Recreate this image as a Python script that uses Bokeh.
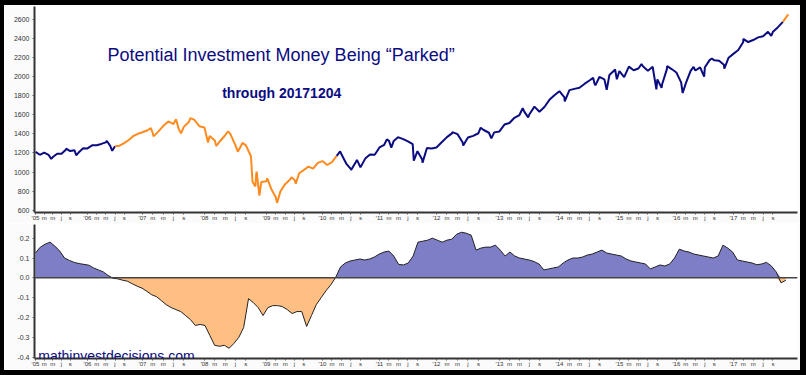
import numpy as np
from bokeh.plotting import figure
from bokeh.layouts import column, row
from bokeh.models import Range1d, FixedTicker, Label, Span, NumeralTickFormatter, Div
from bokeh.embed import file_html
from bokeh.resources import INLINE

# ---------------- data ----------------
start_year = 2005
n_months = 156  # Jan 2005 .. Dec 2017

# index level at the start of each calendar month
price = [
    1212, 1181, 1204, 1181, 1157, 1192, 1191, 1234, 1220, 1229, 1207, 1249,
    1248, 1280, 1281, 1295, 1311, 1270, 1270, 1277, 1304, 1336, 1378, 1401,
    1418, 1438, 1407, 1421, 1482, 1531, 1503, 1455, 1474, 1527, 1549, 1481,
    1468, 1379, 1331, 1323, 1386, 1400, 1280, 1267, 1283, 1166, 969, 896,
    903, 826, 735, 798, 873, 919, 919, 987, 1021, 1057, 1036, 1096,
    1115, 1074, 1104, 1169, 1187, 1089, 1031, 1102, 1049, 1141, 1183, 1181,
    1258, 1286, 1327, 1326, 1364, 1345, 1321, 1292, 1219, 1131, 1253, 1247,
    1258, 1312, 1366, 1408, 1398, 1310, 1362, 1379, 1407, 1441, 1412, 1416,
    1426, 1498, 1515, 1569, 1598, 1631, 1606, 1686, 1633, 1682, 1757, 1806,
    1848, 1783, 1859, 1872, 1884, 1924, 1960, 1931, 1997, 1972, 2018, 2068,
    2059, 1995, 2105, 2068, 2086, 2107, 2063, 2104, 1972, 1920, 2079, 2080,
    2044, 1940, 1932, 2060, 2065, 2097, 2099, 2174, 2171, 2168, 2126, 2199,
    2239, 2279, 2364, 2363, 2384, 2412, 2423, 2470, 2472, 2519, 2575, 2648,
]

# extra intra-month highs / lows visible in the line
extreme_dates = [
    "2005-04-20", "2005-08-03", "2005-10-13", "2006-05-08", "2006-06-13",
    "2007-02-20", "2007-03-05", "2007-07-16", "2007-08-15", "2007-10-09",
    "2008-01-22", "2008-03-10", "2008-05-19", "2008-07-15", "2008-08-11",
    "2008-10-10", "2008-10-27", "2008-11-04", "2008-11-20", "2009-01-06",
    "2009-03-09", "2009-06-12", "2009-07-10", "2010-04-23", "2010-07-02",
    "2010-08-09", "2011-02-18", "2011-03-16", "2011-04-29", "2011-08-08",
    "2011-10-03", "2012-04-02", "2012-06-04", "2012-09-14", "2012-11-15",
    "2013-05-21", "2013-06-24", "2014-02-03", "2014-07-24", "2014-08-07",
    "2014-10-15", "2014-12-05", "2014-12-16", "2015-05-21", "2015-08-25",
    "2015-09-28", "2015-11-03", "2016-02-11", "2016-04-20", "2016-06-27",
    "2016-08-15", "2016-11-04", "2017-03-01", "2017-08-21", "2017-12-04",
]
extreme_values = [
    1138, 1245, 1176, 1326, 1223,
    1460, 1374, 1553, 1406, 1565,
    1310, 1273, 1426, 1214, 1305,
    899, 848, 1005, 752, 935,
    677, 946, 879, 1217, 1022,
    1127, 1343, 1256, 1364, 1119,
    1099, 1419, 1278, 1465, 1353,
    1669, 1573, 1741, 1988, 1909,
    1862, 2075, 1973, 2131, 1867,
    1882, 2110, 1829, 2102, 2000,
    2190, 2085, 2396, 2428, 2640,
]

# lower-panel indicator, read at evenly spaced points along the axis
indicator = [
    0.126, 0.155, 0.17, 0.18, 0.16, 0.135, 0.10, 0.088, 0.078, 0.072, 0.068, 0.064,
    0.05, 0.04, 0.03, 0.012, -0.002, -0.005, -0.012, -0.017, -0.03, -0.042, -0.052, -0.068,
    -0.085, -0.095, -0.115, -0.135, -0.15, -0.16, -0.17, -0.19, -0.21, -0.24, -0.235, -0.24,
    -0.29, -0.34, -0.345, -0.34, -0.355, -0.33, -0.30, -0.25, -0.105, -0.125, -0.15, -0.19,
    -0.15, -0.14, -0.14, -0.145, -0.16, -0.18, -0.17, -0.17, -0.245, -0.19, -0.135, -0.10,
    -0.065, -0.035, 0.002, 0.055, 0.075, 0.085, 0.09, 0.095, 0.09, 0.095, 0.105, 0.12,
    0.13, 0.135, 0.11, 0.068, 0.065, 0.075, 0.11, 0.18, 0.185, 0.19, 0.20, 0.19,
    0.18, 0.19, 0.195, 0.22, 0.23, 0.225, 0.215, 0.14, 0.15, 0.155, 0.155, 0.165,
    0.14, 0.11, 0.13, 0.11, 0.10, 0.095, 0.09, 0.082, 0.07, 0.04, 0.045, 0.05,
    0.055, 0.075, 0.09, 0.10, 0.10, 0.105, 0.115, 0.12, 0.13, 0.14, 0.125, 0.12,
    0.115, 0.11, 0.095, 0.085, 0.08, 0.075, 0.07, 0.045, 0.055, 0.065, 0.06, 0.07,
    0.10, 0.145, 0.135, 0.13, 0.12, 0.115, 0.11, 0.105, 0.10, 0.11, 0.165, 0.15,
    0.13, 0.09, 0.085, 0.08, 0.075, 0.066, 0.07, 0.078, 0.06, 0.03, -0.025, -0.012,
]

# the chart's time axis is not quite linear in calendar time:
# where each January (and the last date) sits on the axis, in axis units
axis_calendar_months = [0, 12, 24, 36, 48, 60, 72, 84, 96, 108, 120, 132, 144, 155.1]
axis_positions = [0, 10.74, 22.10, 34.90, 47.71, 59.27, 71.05, 82.82, 95.83,
                  108.22, 120.61, 132.38, 144.15, 155.51]

tick_month_offsets = [0, 2, 4, 6, 8]
tick_month_letters = [None, "m", "m", "j", "s"]  # None -> year label
top_y_ticks = [600, 800, 1000, 1200, 1400, 1600, 1800, 2000, 2200, 2400, 2600]
bottom_y_ticks = [-0.4, -0.3, -0.2, -0.1, 0.0, 0.1, 0.2]

title_text = "Potential Investment Money Being \u201cParked\u201d"
subtitle_text = "through 20171204"
site_text = "mathinvestdecisions.com"
badge_text = "MBT"

# ---------------- styles ----------------
NAVY = "#0b0b82"
ORANGE = "#ff8a1e"
BLUE_FILL = "#7e7ec6"
ORANGE_FILL = "#ffbe82"
FONT = "Liberation Sans"
PANEL_BG = "#fbfbfb"


def cal_month(d):
    y, m, dd = (int(s) for s in d.split("-"))
    return (y - start_year) * 12 + (m - 1) + (dd - 1) / 30.5


def to_axis(cm):
    return np.interp(cm, axis_calendar_months, axis_positions)


ix = np.arange(n_months, dtype=float)
ind = np.array(indicator)

cal = np.concatenate([np.arange(n_months, dtype=float),
                      [cal_month(d) for d in extreme_dates]])
py = np.concatenate([np.array(price, float), np.array(extreme_values, float)])
order = np.argsort(cal, kind="stable")
px = to_axis(cal[order])
py = py[order]
psign = np.interp(px, ix, ind) < 0

# x ticks / labels (calendar months mapped onto the axis)
ticks, overrides = [], {}
for yi in range(start_year, start_year + 13):
    for off, let in zip(tick_month_offsets, tick_month_letters):
        t = round(float(to_axis((yi - start_year) * 12 + off)), 4)
        ticks.append(t)
        overrides[t] = ("'" + str(yi)[2:]) if let is None else let

x_range = Range1d(-0.21, 157.4)


def style_x(ax):
    ax.ticker = FixedTicker(ticks=ticks)
    ax.major_label_overrides = overrides
    ax.major_label_text_font = FONT
    ax.major_label_text_font_size = "6px"
    ax.major_label_text_color = "#333333"
    ax.major_label_standoff = 0
    ax.major_tick_out = 2
    ax.major_tick_in = 0
    ax.minor_tick_out = 0
    ax.minor_tick_in = 0
    ax.axis_line_width = 2
    ax.axis_line_color = "#333333"
    ax.major_tick_line_color = "#555555"


def style_y(ax, tks):
    ax.ticker = FixedTicker(ticks=tks)
    ax.major_label_text_font = FONT
    ax.major_label_text_font_size = "7px"
    ax.major_label_text_color = "#333333"
    ax.major_label_standoff = 3
    ax.major_tick_out = 2
    ax.major_tick_in = 0
    ax.minor_tick_out = 0
    ax.minor_tick_in = 0
    ax.axis_line_width = 2
    ax.axis_line_color = "#333333"
    ax.major_tick_line_color = "#555555"


# ---------------- top panel ----------------
p1 = figure(width=796, height=218, x_range=x_range, y_range=Range1d(576, 2735.7),
            output_backend="svg", toolbar_location=None,
            min_border_left=30, min_border_right=3, min_border_top=1, min_border_bottom=10,
            background_fill_color="white", border_fill_color=PANEL_BG)
p1.outline_line_color = None
p1.xgrid.visible = False
p1.ygrid.visible = False
style_x(p1.xaxis[0])
style_y(p1.yaxis[0], top_y_ticks)

# split the price line by the sign of the indicator
seg_xs, seg_ys, seg_cs = [], [], []
cur = [0]
for i in range(1, len(px)):
    cur.append(i)
    if psign[i] != psign[i - 1]:
        seg_xs.append(px[cur].tolist())
        seg_ys.append(py[cur].tolist())
        seg_cs.append(ORANGE if psign[cur[0]] else NAVY)
        cur = [i]
seg_xs.append(px[cur].tolist())
seg_ys.append(py[cur].tolist())
seg_cs.append(ORANGE if psign[cur[0]] else NAVY)
p1.multi_line(xs=seg_xs, ys=seg_ys, line_color=seg_cs, line_width=2)

p1.add_layout(Label(x=14.87, y=2225, text=title_text, text_font=FONT,
                    text_font_size="18px", text_color=NAVY, text_baseline="alphabetic"))
p1.add_layout(Label(x=38.56, y=1825, text=subtitle_text, text_font=FONT,
                    text_font_size="14px", text_font_style="bold", text_color=NAVY,
                    text_baseline="alphabetic"))

# ---------------- bottom panel ----------------
p2 = figure(width=796, height=147, x_range=x_range, y_range=Range1d(-0.4066, 0.269),
            output_backend="svg", toolbar_location=None,
            min_border_left=30, min_border_right=3, min_border_top=1, min_border_bottom=12,
            background_fill_color="white", border_fill_color=PANEL_BG)
p2.outline_line_color = None
p2.xgrid.visible = False
p2.ygrid.visible = False
style_x(p2.xaxis[0])
style_y(p2.yaxis[0], bottom_y_ticks)
p2.yaxis[0].formatter = NumeralTickFormatter(format="0.0")

p2.varea(x=ix, y1=0, y2=np.maximum(ind, 0), fill_color=BLUE_FILL)
p2.varea(x=ix, y1=0, y2=np.minimum(ind, 0), fill_color=ORANGE_FILL)
p2.add_layout(Span(location=0, dimension="width", line_color="#444444", line_width=1.5))
p2.line(ix, ind, line_color="#222222", line_width=1)

p2.add_layout(Label(x=0.56, y=-0.392, text=site_text, text_font=FONT,
                    text_font_size="14px", text_color=NAVY, text_baseline="alphabetic"))
p2.add_layout(Label(x=-4.4, y=-0.432, text=badge_text, text_font=FONT,
                    text_font_size="5px", text_font_style="bold", text_color="white",
                    background_fill_color="black", text_baseline="middle",
                    padding=1))

# ---------------- black frame around everything ----------------
black = {"background-color": "black"}
top_bar = Div(text="", width=806, height=5, margin=0, styles=black)
bot_bar = Div(text="", width=806, height=5, margin=0, styles=black)
left_bar = Div(text="", width=4, height=365, margin=0, styles=black)
right_bar = Div(text="", width=6, height=365, margin=0, styles=black)

inner = column(p1, p2, spacing=0)
layout = column(top_bar, row(left_bar, inner, right_bar, spacing=0), bot_bar, spacing=0)
open("out.html", "w").write(file_html(layout, INLINE))
